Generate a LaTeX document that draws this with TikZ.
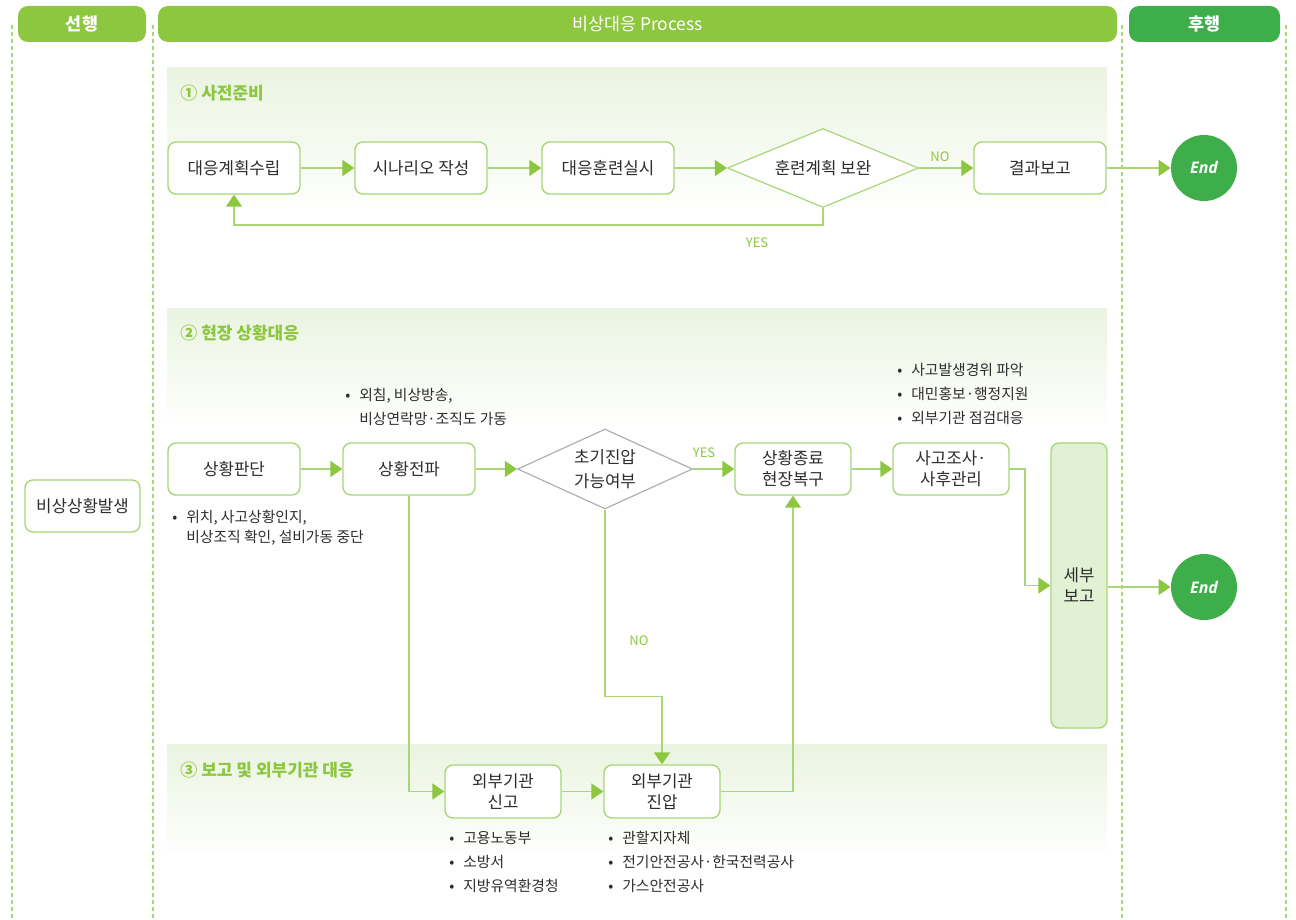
\documentclass[tikz,border=0pt]{standalone}
\usepackage{fontspec}
\setmainfont{Noto Sans CJK KR}
\newfontfamily\endfont{Open Sans}
\usetikzlibrary{arrows.meta,positioning,shapes.geometric}
\definecolor{hdrgreen}{RGB}{141,198,63}
\definecolor{hdrdark}{RGB}{61,174,73}
\definecolor{linegreen}{RGB}{168,214,120}
\definecolor{tipgreen}{RGB}{141,198,63}
\definecolor{secbg}{RGB}{234,244,224}
\definecolor{repbg}{RGB}{226,240,212}
\definecolor{txtgray}{RGB}{45,45,45}
\definecolor{diagray}{RGB}{175,175,175}

\begin{document}
\begin{tikzpicture}[
    x=0.5pt, y=-0.5pt,
    hdr/.style={fill=hdrgreen, rounded corners=5pt, minimum height=18pt, text=white, font=\fontsize{8.7}{10}\selectfont, inner sep=0pt},
    proc/.style={draw=linegreen, line width=0.7pt, fill=white, rounded corners=4pt, minimum width=66pt, minimum height=26pt, font=\fontsize{8.4}{10.5}\selectfont, text=txtgray, align=center, inner sep=1pt},
    decide/.style={diamond, draw=linegreen, line width=0.6pt, fill=white, aspect=2.4, inner sep=0pt, font=\fontsize{8.4}{12}\selectfont, text=txtgray, align=center},
    endnode/.style={circle, fill=hdrdark, minimum size=33pt, inner sep=0pt, text=white, font=\endfont\bfseries\itshape\fontsize{8}{10}\selectfont},
    note/.style={anchor=north west, align=left, inner sep=0pt, text=txtgray, font=\fontsize{7.4}{12}\selectfont},
    conn/.style={draw=linegreen, line width=0.8pt, -{Triangle[length=6pt,width=8pt,color=tipgreen]}},
    wire/.style={draw=linegreen, line width=0.8pt},
    lbl/.style={text=tipgreen, font=\fontsize{6.5}{8}\selectfont, inner sep=0pt},
    sec/.style={text=hdrgreen, font=\bfseries\fontsize{8.5}{10}\selectfont, anchor=west, inner sep=0pt},
    lane/.style={draw=linegreen, line width=0.7pt, dash pattern=on 2pt off 1.5pt},
    secfill/.style={top color=secbg, bottom color=white, draw=none}
]
\useasboundingbox (0,0) rectangle (1296,920);

% Section backgrounds
\fill[secfill] (167,68) rectangle (1107,215);
\fill[secfill] (167,308) rectangle (1107,430);
\fill[secfill] (167,744) rectangle (1107,860);

% Swimlane borders
\foreach \lx in {12,153,1122,1286}
    \draw[lane] (\lx,25) -- (\lx,920);

% Headers
\node[hdr, minimum width=64pt, font=\bfseries\fontsize{8.7}{10}\selectfont] (h1) at (82,24) {선행};
\node[hdr, minimum width=479.5pt] (h2) at (637.5,24) {비상대응 Process};
\node[hdr, fill=hdrdark, minimum width=75.5pt, font=\bfseries\fontsize{8.7}{10}\selectfont] (h3) at (1204.5,24) {후행};

% Section titles
\node[sec] (t1) at (180,93) {① 사전준비};
\node[sec] (t2) at (180,333) {② 현장 상황대응};
\node[sec] (t3) at (180,770) {③ 보고 및 외부기관 대응};

% Start
\node[proc, minimum width=57.5pt] (start) at (82.5,506) {비상상황발생};

% Row 1: preparation
\node[proc] (plan)  at (234,168)  {대응계획수립};
\node[proc] (scen)  at (421,168)  {시나리오 작성};
\node[proc] (drill) at (608,168)  {대응훈련실시};
\node[decide, minimum width=95.5pt, minimum height=39.5pt] (rev) at (823,168) {훈련계획 보완};
\node[proc] (result) at (1040,168) {결과보고};
\node[endnode] (end1) at (1204,168) {End};

\draw[conn] (plan) -- (scen);
\draw[conn] (scen) -- (drill);
\draw[conn] (drill) -- (rev);
\draw[conn] (rev) -- (result);
\draw[conn] (result) -- (end1);
\draw[conn] (rev.south) -- ++(0,17) -| (plan.south);
\node[lbl] (no1) at (940,157) {NO};
\node[lbl] (yes1)  at (757,243) {YES};

% Row 2: on-site response
\node[proc] (judge) at (234,469) {상황판단};
\node[proc] (alert) at (409,469) {상황전파};
\node[decide, draw=diagray, aspect=2.2, minimum width=87.5pt, minimum height=40pt] (early) at (605,469) {초기진압\\가능여부};
\node[proc, minimum width=58pt] (restore) at (793,469) {상황종료\\현장복구};
\node[proc, minimum width=58pt] (invest)  at (951,469) {사고조사·\\사후관리};
\node[proc, fill=repbg, minimum width=28pt, minimum height=142.5pt] (detail) at (1079,585.5) {세부\\보고};
\node[endnode] (end2) at (1204,587) {End};

\draw[conn] (judge) -- (alert);
\draw[conn] (alert) -- (early);
\draw[conn] (early) -- (restore);
\draw[conn] (restore) -- (invest);
\draw[conn] (invest.east) -- ++(15,0) |- (detail.west);
\draw[conn] (detail.east |- end2) -- (end2);
\node[lbl] (yes2) at (704,453) {YES};

% Row 3: reporting to outside agencies
\node[proc, minimum width=58pt, minimum height=26.5pt] (notify)  at (503,791.5) {외부기관\\신고};
\node[proc, minimum width=58pt, minimum height=26.5pt] (suppress) at (662,791.5) {외부기관\\진압};

\draw[conn] (alert.south) |- (notify.west);
\draw[conn] (notify) -- (suppress);
\draw[conn] (early.south) -- ++(0,187) -| (suppress.north);
\draw[conn] (suppress.east) -| (restore.south);
\node[lbl] (no2) at (639,641) {NO};

% Notes
\node[note] (n_alert) at (345,388) {•\hspace{0.6em}외침, 비상방송,\\\hphantom{•\hspace{0.6em}}비상연락망·조직도 가동};
\node[note, font=\fontsize{7.4}{10}\selectfont] (n_judge) at (172,510) {•\hspace{0.6em}위치, 사고상황인지,\\\hphantom{•\hspace{0.6em}}비상조직 확인, 설비가동 중단};
\node[note] (n_invest) at (897,363) {•\hspace{0.6em}사고발생경위 파악\\•\hspace{0.6em}대민홍보·행정지원\\•\hspace{0.6em}외부기관 점검대응};
\node[note] (n_notify) at (449,831) {•\hspace{0.6em}고용노동부\\•\hspace{0.6em}소방서\\•\hspace{0.6em}지방유역환경청};
\node[note] (n_suppress) at (608,831) {•\hspace{0.6em}관할지자체\\•\hspace{0.6em}전기안전공사·한국전력공사\\•\hspace{0.6em}가스안전공사};
\end{tikzpicture}
\end{document}
